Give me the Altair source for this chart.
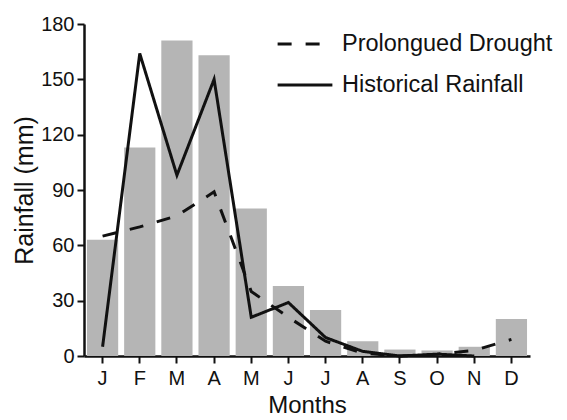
import altair as alt
import pandas as pd

months = ["Jan", "Feb", "Mar", "Apr", "May", "Jun", "Jul", "Aug", "Sep", "Oct", "Nov", "Dec"]
bars = [63, 113, 171, 163, 80, 38, 25, 8, 3.5, 3, 5, 20]
historical = [5, 164, 98, 150, 21, 29, 10, 2.5, 0, 1, 0, None]
drought = [65, 70, 76, 89, 35, 21, 8, 1.5, 0, 1, 3, 9]

series_names = ["Prolongued Drought", "Historical Rainfall"]

bar_df = pd.DataFrame({"month": months, "value": bars})
rows = []
for m, h, d in zip(months, historical, drought):
    rows.append({"month": m, "series": series_names[0], "value": d})
    if h is not None:
        rows.append({"month": m, "series": series_names[1], "value": h})
line_df = pd.DataFrame(rows)

font = "Liberation Sans"
ink = "#111111"

x_enc = alt.X(
    "month:N",
    sort=months,
    scale=alt.Scale(paddingInner=0.16, paddingOuter=0.08),
    axis=alt.Axis(
        title="Months",
        labelExpr="substring(datum.label, 0, 1)",
        labelAngle=0,
        labelFontSize=20,
        labelPadding=5,
        titleFontSize=24,
        titlePadding=5,
        titleFontWeight="normal",
        tickSize=7,
        tickWidth=2,
        domainWidth=2.5,
        domainColor=ink,
        tickColor=ink,
        labelColor=ink,
        titleColor=ink,
        labelFont=font,
        titleFont=font,
    ),
)

y_axis = alt.Axis(
    title="Rainfall (mm)",
    values=[0, 30, 60, 90, 120, 150, 180],
    labelFontSize=20,
    labelPadding=3,
    titleFontSize=25,
    titlePadding=3,
    titleFontWeight="normal",
    tickSize=7,
    tickWidth=2,
    domainWidth=2.5,
    domainColor=ink,
    tickColor=ink,
    labelColor=ink,
    titleColor=ink,
    labelFont=font,
    titleFont=font,
    grid=False,
)

bar_layer = alt.Chart(bar_df).mark_bar(color="#b5b5b5").encode(
    x=x_enc,
    y=alt.Y("value:Q", scale=alt.Scale(domain=[0, 180], nice=False), axis=y_axis),
)

line_layer = alt.Chart(line_df).mark_line(strokeWidth=3, color=ink).encode(
    x=alt.X("month:N", sort=months),
    y=alt.Y("value:Q"),
    detail="series:N",
    strokeDash=alt.StrokeDash(
        "series:N",
        sort=series_names,
        scale=alt.Scale(domain=series_names, range=[[14, 14], [1, 0]]),
        legend=alt.Legend(
            title=None,
            orient="none",
            legendX=192,
            legendY=-9,
            symbolType="stroke",
            symbolSize=3000,
            symbolStrokeWidth=3,
            symbolStrokeColor=ink,
            labelFontSize=23.5,
            labelFont=font,
            labelColor=ink,
            labelOffset=8,
            labelLimit=400,
            rowPadding=0,
        ),
    ),
)

chart = (
    alt.layer(bar_layer, line_layer)
    .properties(
        width=446,
        height=332,
        autosize=alt.AutoSizeParams(type="none"),
        padding={"left": 76, "top": 16, "right": 29, "bottom": 62},
        background="white",
    )
    .configure_view(stroke=None)
)

chart.save("out.html", embed_options={"renderer": "svg", "actions": False})
